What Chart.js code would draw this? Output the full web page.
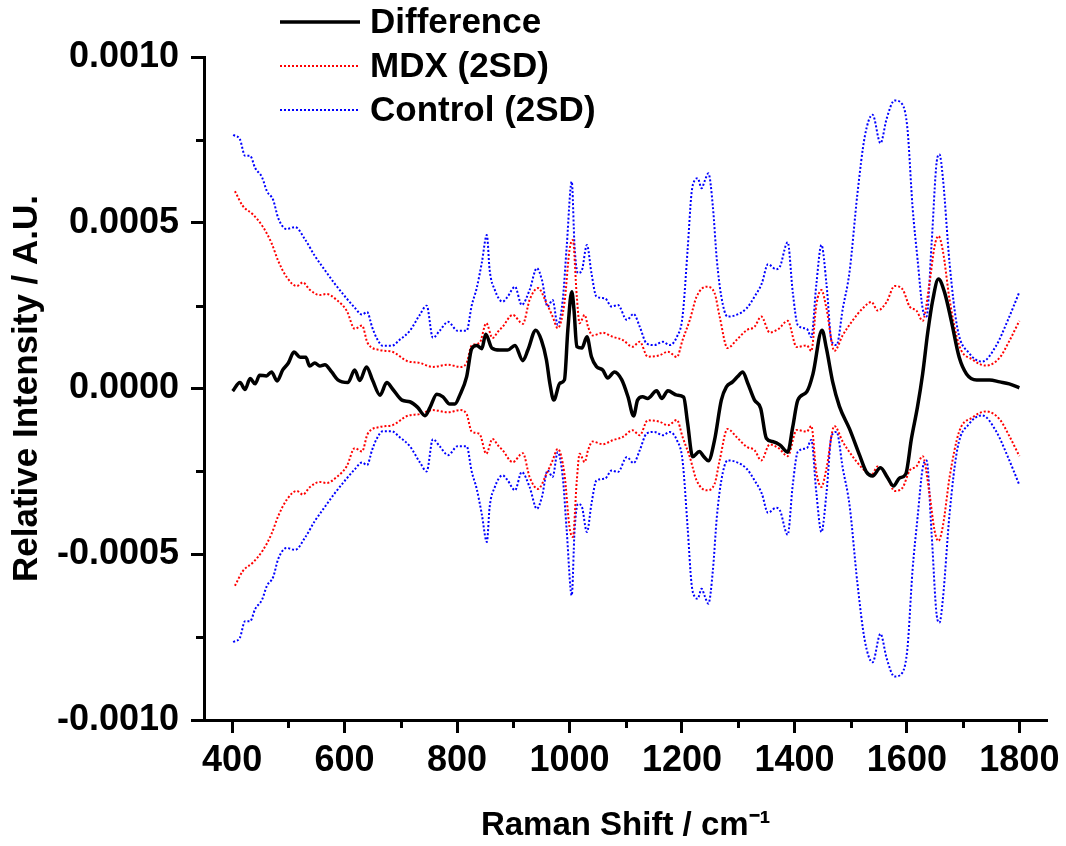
<!DOCTYPE html>
<html>
<head>
<meta charset="utf-8">
<script src="https://cdn.jsdelivr.net/npm/chart.js@4.4.1/dist/chart.umd.min.js"></script>
<style>
  html, body { margin: 0; padding: 0; background: #fff; }
  #wrap { width: 1066px; height: 846px; }
</style>
</head>
<body>
<div id="wrap"><canvas id="ramanChart" width="1066" height="846"></canvas></div>
<script>
// Raman difference spectrum with the +/- 2SD envelopes of both groups
const X_TICKS = [400, 600, 800, 1000, 1200, 1400, 1600, 1800];
const X_MINOR = [500, 700, 900, 1100, 1300, 1500, 1700];
const Y_TICKS = [-0.001, -0.0005, 0, 0.0005, 0.001];
const Y_MINOR = [-0.00075, -0.00025, 0.00025, 0.00075];

const diffX = [401, 414, 423, 432, 441, 449, 461, 470, 480, 490, 500, 510, 521, 531, 538, 547, 556, 565, 577, 588,
  606, 618, 627, 639, 650, 663, 675, 686, 702, 716, 730, 743, 752, 764, 775, 787, 796, 805, 817, 826,
  835, 844, 851, 862, 876, 890, 903, 917, 926, 940, 950, 959, 965, 972, 983, 991, 997, 1004, 1008, 1013,
  1022, 1031, 1039, 1048, 1059, 1068, 1080, 1093, 1104, 1114, 1121, 1130, 1139, 1155, 1164, 1175, 1191, 1203, 1210, 1219,
  1231, 1239, 1247, 1258, 1270, 1279, 1290, 1299, 1308, 1317, 1329, 1340, 1350, 1361, 1374, 1388, 1397, 1406, 1422, 1433,
  1449, 1457, 1468, 1480, 1498, 1516, 1528, 1539, 1553, 1566, 1576, 1587, 1598, 1608, 1619, 1628, 1637, 1646, 1656, 1667,
  1679, 1693, 1706, 1724, 1747, 1765, 1782, 1800];
const diffY = [-0.000008, 0.000018, -0.000003, 0.00003, 0.000014, 0.00004, 0.000038, 0.00005, 0.000023, 0.000056,
  0.000077, 0.00011, 0.000094, 0.000094, 0.000068, 0.000077, 0.000068, 0.000072, 0.00005, 0.000026,
  0.000018, 0.000056, 0.000024, 0.000065, 0.000024, -0.00002, 0.000018, -0.000003, -0.000035, -0.00004,
  -0.000057, -0.000082, -0.000057, -0.000017, -0.000025, -0.000047, -0.000047, -0.00002, 0.000035, 0.00012,
  0.00013, 0.00012, 0.000164, 0.000122, 0.000116, 0.000116, 0.00013, 0.000084, 0.000116, 0.000176,
  0.000146, 0.000086, 0.000016, -0.000035, 0.000016, 0.000026, 0.000176, 0.000292, 0.000237, 0.000126,
  0.000122, 0.000156, 0.000096, 0.000066, 0.000056, 0.000032, 0.00005, 0.000026, -0.000025, -0.000083,
  -0.000035, -0.000025, -0.00003, -0.000007, -0.00003, -0.000007, -0.00002, -0.000026, -0.000104, -0.000206,
  -0.00019, -0.000206, -0.000218, -0.000155, -0.000035, 0.000005, 0.00002, 0.000036, 0.00005, 0.000016,
  -0.000035, -0.00006, -0.00015, -0.00016, -0.00017, -0.000192, -0.000116, -0.000035, -0.00001, 0.000044,
  0.000176, 0.00012, 0.00002, -0.000054, -0.000122, -0.000202, -0.000252, -0.000264, -0.000239, -0.00027,
  -0.000294, -0.00027, -0.000258, -0.000152, -0.000054, 0.000044, 0.000168, 0.000267, 0.00033, 0.00029,
  0.000204, 0.000094, 0.000044, 0.000026, 0.000026, 0.00002, 0.000014, 0.000002];

const mdxX = [405, 419, 437, 455, 470, 482, 497, 515, 526, 538, 556, 568, 586, 604, 618, 631, 641, 663, 686, 711,
  734, 757, 784, 805, 817, 826, 840, 852, 863, 873, 881, 899, 917, 929, 944, 959, 970, 979, 991, 1000,
  1006, 1013, 1018, 1027, 1033, 1041, 1059, 1077, 1095, 1112, 1125, 1139, 1160, 1175, 1191, 1201, 1214, 1226, 1244, 1258,
  1267, 1281, 1297, 1315, 1329, 1341, 1356, 1372, 1388, 1404, 1422, 1430, 1439, 1448, 1457, 1471, 1486, 1503, 1521, 1537,
  1548, 1564, 1578, 1592, 1605, 1617, 1628, 1640, 1649, 1656, 1664, 1676, 1693, 1717, 1741, 1765, 1782, 1800];
const mdxSD = [0.000595, 0.000551, 0.000525, 0.000487, 0.000439, 0.000385, 0.000336, 0.000309, 0.00032, 0.000298,
  0.000282, 0.000285, 0.000267, 0.000234, 0.00018, 0.00019, 0.000137, 0.000116, 0.00011, 0.000083,
  0.000077, 0.000065, 0.000072, 0.000065, 0.000077, 0.00013, 0.000137, 0.000197, 0.000152, 0.000172,
  0.000186, 0.000222, 0.000195, 0.000267, 0.000303, 0.000258, 0.000217, 0.000182, 0.000258, 0.000418,
  0.000448, 0.000277, 0.000197, 0.000222, 0.000186, 0.00016, 0.000168, 0.000156, 0.000146, 0.000126,
  0.000141, 0.000096, 0.0001, 0.000111, 0.000095, 0.000146, 0.000207, 0.000277, 0.000307, 0.000288,
  0.000217, 0.000122, 0.000146, 0.000176, 0.000186, 0.000217, 0.000169, 0.00018, 0.000204, 0.000125,
  0.00013, 0.000113, 0.000253, 0.000297, 0.000241, 0.000113, 0.000161, 0.000204, 0.000241, 0.000261,
  0.000235, 0.000261, 0.000309, 0.0003, 0.000247, 0.000235, 0.000204, 0.000315, 0.000427, 0.00046,
  0.000415, 0.000267, 0.00013, 0.000087, 0.000069, 0.000093, 0.000143, 0.000204];

const ctrlX = [402, 414, 423, 432, 441, 453, 462, 473, 482, 497, 512, 530, 547, 565, 583, 604, 618, 631, 640, 649,
  657, 668, 684, 698, 716, 734, 746, 757, 769, 784, 801, 817, 826, 835, 844, 853, 858, 867, 881, 890,
  903, 915, 929, 942, 951, 961, 970, 979, 988, 995, 1004, 1009, 1015, 1022, 1031, 1039, 1048, 1063, 1075, 1086,
  1102, 1114, 1125, 1137, 1151, 1166, 1178, 1191, 1201, 1210, 1217, 1223, 1228, 1235, 1240, 1247, 1255, 1262, 1270, 1281,
  1297, 1315, 1329, 1342, 1353, 1367, 1374, 1388, 1397, 1406, 1422, 1430, 1439, 1448, 1457, 1466, 1475, 1486, 1498, 1512,
  1525, 1539, 1553, 1564, 1578, 1592, 1601, 1610, 1619, 1628, 1635, 1644, 1653, 1658, 1664, 1676, 1690, 1711, 1734, 1759,
  1779, 1800];
const ctrlSD = [0.000765, 0.000751, 0.000702, 0.000702, 0.000665, 0.000638, 0.000595, 0.000569, 0.000514, 0.000481,
  0.000487, 0.000449, 0.0004, 0.000357, 0.000315, 0.000271, 0.000244, 0.000223, 0.000231, 0.000185,
  0.000152, 0.000129, 0.000129, 0.000147, 0.000174, 0.000223, 0.00025, 0.000153, 0.000174, 0.000201,
  0.000174, 0.000174, 0.00025, 0.000303, 0.000379, 0.000463, 0.000357, 0.000298, 0.000262, 0.000277,
  0.000307, 0.000252, 0.000297, 0.000363, 0.000327, 0.000247, 0.000267, 0.000192, 0.000267, 0.000428,
  0.000624, 0.000428, 0.000348, 0.000357, 0.000433, 0.000348, 0.000277, 0.000272, 0.000247, 0.000252,
  0.000207, 0.000225, 0.000186, 0.000136, 0.000131, 0.000141, 0.000131, 0.000156, 0.000217, 0.000418,
  0.000589, 0.000629, 0.000634, 0.000604, 0.000624, 0.000649, 0.000548, 0.000388, 0.000277, 0.000217,
  0.000222, 0.000242, 0.000277, 0.000317, 0.000375, 0.00036, 0.000367, 0.000441, 0.000291, 0.000191,
  0.00018, 0.000155, 0.000315, 0.000433, 0.000315, 0.000143, 0.000131, 0.000241, 0.000352, 0.000587,
  0.000759, 0.000826, 0.00074, 0.000814, 0.000869, 0.000857, 0.000783, 0.000549, 0.000389, 0.000241,
  0.000217, 0.000439, 0.000684, 0.000706, 0.000635, 0.000376, 0.00018, 0.000106, 0.000081, 0.00013,
  0.000204, 0.000291];

const FONT = "'Liberation Sans', Arial, Helvetica, sans-serif";
const RED = "#ff0000";
const BLUE = "#0000ff";

function toPoints(xs, ys, sign) {
  return xs.map((x, i) => ({ x: x, y: sign * ys[i] }));
}

function lineSet(label, data, color, dashed) {
  return {
    label: label,
    data: data,
    borderColor: color,
    borderWidth: dashed ? 2 : 3.5,
    borderDash: dashed ? [2, 2] : [],
    pointRadius: 0,
    fill: false,
    tension: 0,
    cubicInterpolationMode: "monotone"
  };
}

// axis decorations: the short minor ticks between the labelled ones
const minorTicks = {
  id: "minorTicks",
  afterDraw(chart) {
    const { ctx } = chart;
    const xs = chart.scales.x;
    const ys = chart.scales.y;
    ctx.save();
    ctx.strokeStyle = "#000";
    ctx.lineWidth = 3;
    ctx.beginPath();
    X_MINOR.forEach((v) => {
      const px = Math.round(xs.getPixelForValue(v)) + 0.5;
      ctx.moveTo(px, xs.top);
      ctx.lineTo(px, xs.top + 8);
    });
    Y_MINOR.forEach((v) => {
      const py = Math.round(ys.getPixelForValue(v)) + 0.5;
      ctx.moveTo(ys.right, py);
      ctx.lineTo(ys.right - 8, py);
    });
    ctx.stroke();
    ctx.restore();
  }
};

// legend sits inside the plot, top left
const insideLegend = {
  id: "insideLegend",
  afterDraw(chart) {
    const { ctx } = chart;
    ctx.save();
    chart.data.datasets.slice(0, 3).forEach((ds, i) => {
      const y = 22 + i * 44;
      ctx.strokeStyle = ds.borderColor;
      ctx.lineWidth = ds.borderWidth;
      ctx.setLineDash(ds.borderDash);
      ctx.beginPath();
      ctx.moveTo(280, y);
      ctx.lineTo(360, y);
      ctx.stroke();
      ctx.setLineDash([]);
      ctx.fillStyle = "#000";
      ctx.font = "bold 35px " + FONT;
      ctx.textBaseline = "middle";
      ctx.textAlign = "left";
      ctx.fillText(ds.label, 370, y + 1);
    });
    ctx.restore();
  }
};

const chart = new Chart(document.getElementById("ramanChart"), {
  type: "line",
  data: {
    datasets: [
      lineSet("Difference", toPoints(diffX, diffY, 1), "#000", false),
      lineSet("MDX (2SD)", toPoints(mdxX, mdxSD, 1), RED, true),
      lineSet("Control (2SD)", toPoints(ctrlX, ctrlSD, 1), BLUE, true),
      lineSet("MDX (2SD)", toPoints(mdxX, mdxSD, -1), RED, true),
      lineSet("Control (2SD)", toPoints(ctrlX, ctrlSD, -1), BLUE, true)
    ]
  },
  options: {
    responsive: false,
    animation: false,
    layout: { padding: { top: 57, right: 18, left: 0, bottom: 0 } },
    plugins: {
      legend: { display: false },
      tooltip: { enabled: false }
    },
    scales: {
      x: {
        type: "linear",
        min: 350,
        max: 1850,
        afterBuildTicks(scale) {
          scale.ticks = X_TICKS.map((v) => ({ value: v }));
        },
        afterFit(scale) {
          scale.height = 126;
        },
        grid: { drawOnChartArea: false, drawTicks: true, tickLength: 13, tickWidth: 3, tickColor: "#000" },
        border: { display: true, color: "#000", width: 3 },
        ticks: {
          color: "#000",
          padding: 6,
          maxRotation: 0,
          autoSkip: false,
          font: { family: FONT, size: 36, weight: "bold" },
          callback: (v) => String(v)
        },
        title: {
          display: true,
          text: "Raman Shift / cm\u207B\u00B9",
          color: "#000",
          padding: 0,
          font: { family: FONT, size: 33, weight: "bold" }
        }
      },
      y: {
        min: -0.001,
        max: 0.001,
        afterBuildTicks(scale) {
          scale.ticks = Y_TICKS.map((v) => ({ value: v }));
        },
        afterFit(scale) {
          scale.width = 204;
        },
        grid: { drawOnChartArea: false, drawTicks: true, tickLength: 13, tickWidth: 3, tickColor: "#000" },
        border: { display: true, color: "#000", width: 3 },
        ticks: {
          color: "#000",
          padding: 12,
          font: { family: FONT, size: 36, weight: "bold" },
          callback: (v) => Number(v).toFixed(4)
        },
        title: {
          display: true,
          text: "Relative Intensity / A.U.",
          color: "#000",
          padding: { top: 6, bottom: 0 },
          font: { family: FONT, size: 35, weight: "bold" }
        }
      }
    }
  },
  plugins: [minorTicks, insideLegend]
});
</script>
</body>
</html>
